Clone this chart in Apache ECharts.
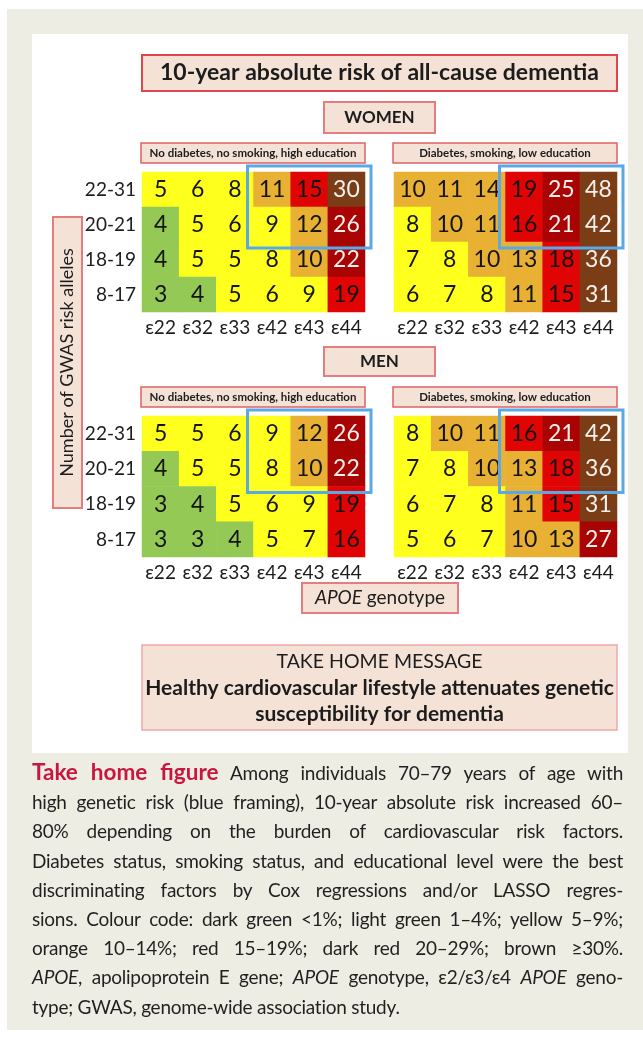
<!DOCTYPE html>
<html>
<head>
<meta charset="utf-8">
<title>10-year absolute risk of all-cause dementia</title>
<script src="https://cdn.jsdelivr.net/npm/echarts@6/dist/echarts.min.js"></script>
<style>
	html, body { margin: 0; padding: 0; background: #fff; }
	#page { position: relative; width: 643px; height: 1037px; overflow: hidden; }
	#beige { position: absolute; left: 7px; top: 9px; width: 636px; height: 1021px; background: #EEEDE3; }
	#panel { position: absolute; left: 32px; top: 34px; width: 596px; height: 719px; background: #fff; }
	#chart { position: absolute; left: 0; top: 0; width: 643px; height: 760px; }
	#caption { position: absolute; left: 32px; top: 757px; width: 591px; font-family: Lato, 'Open Sans', sans-serif; font-size: 19px; letter-spacing: -0.25px; line-height: 29.2px; color: #231F20; }
	#caption div { white-space: nowrap; text-align: justify; text-align-last: justify; }
	#caption div.last { text-align-last: left; }
	#caption .lead { color: #C8163F; font-weight: bold; font-size: 22.5px; letter-spacing: 0; }
</style>
</head>
<body>
<div id="page">
	<div id="beige"></div>
	<div id="panel"></div>
	<div id="chart"></div>
	<div id="caption">
		<div><span class="lead">Take home figure</span> Among individuals 70–79 years of age with</div>
		<div>high genetic risk (blue framing), 10-year absolute risk increased 60–</div>
		<div>80% depending on the burden of cardiovascular risk factors.</div>
		<div>Diabetes status, smoking status, and educational level were the best</div>
		<div>discriminating factors by Cox regressions and/or LASSO regres-</div>
		<div>sions. Colour code: dark green &lt;1%; light green 1–4%; yellow 5–9%;</div>
		<div>orange 10–14%; red 15–19%; dark red 20–29%; brown ≥30%.</div>
		<div><i>APOE</i>, apolipoprotein E gene; <i>APOE</i> genotype, ε2/ε3/ε4 <i>APOE</i> geno-</div>
		<div class="last">type; GWAS, genome-wide association study.</div>
	</div>
</div>
<script>
// APOE genotypes (columns) and GWAS risk allele groups (rows, top to bottom)
const genotypes = ['ε22', 'ε32', 'ε33', 'ε42', 'ε43', 'ε44'];
const alleleGroups = ['22-31', '20-21', '18-19', '8-17'];

// 10-year absolute risk (%), one row per allele group
const womenHealthy = [
	[5, 6, 8, 11, 15, 30],
	[4, 5, 6, 9, 12, 26],
	[4, 5, 5, 8, 10, 22],
	[3, 4, 5, 6, 9, 19]
];
const womenRisk = [
	[10, 11, 14, 19, 25, 48],
	[8, 10, 11, 16, 21, 42],
	[7, 8, 10, 13, 18, 36],
	[6, 7, 8, 11, 15, 31]
];
const menHealthy = [
	[5, 5, 6, 9, 12, 26],
	[4, 5, 5, 8, 10, 22],
	[3, 4, 5, 6, 9, 19],
	[3, 3, 4, 5, 7, 16]
];
const menRisk = [
	[8, 10, 11, 16, 21, 42],
	[7, 8, 10, 13, 18, 36],
	[6, 7, 8, 11, 15, 31],
	[5, 6, 7, 10, 13, 27]
];

// high genetic risk block (blue framing)
const framedGenotypes = ['ε42', 'ε44'];
const framedGroups = ['22-31', '20-21'];

const panels = [womenHealthy, womenRisk, menHealthy, menRisk];

const FONT = 'Lato, "Open Sans", sans-serif';
const FILL = '#F5E2D7';

function toCells(rows) {
	let out = [];
	rows.forEach((row, y) => {
		row.forEach((v, x) => out.push([x, y, v]));
	});
	return out;
}

function box(id, x, y, w, h, stroke, lw) {
	return {
		id: id,
		type: 'rect',
		shape: { x: x, y: y, width: w, height: h },
		style: { fill: FILL, stroke: stroke, lineWidth: lw },
		z: 10
	};
}

function label(id, text, x, y, size, weight, extra) {
	return Object.assign({
		id: id,
		type: 'text',
		x: x,
		y: y,
		z: 11,
		style: {
			text: text,
			fill: '#1c1c1c',
			font: weight + ' ' + size + 'px ' + FONT,
			textAlign: 'center',
			textVerticalAlign: 'middle'
		}
	}, extra || {});
}

const chart = echarts.init(document.getElementById('chart'), null, { renderer: 'canvas' });

const gridPos = [
	{ left: 142, top: 172, height: 140 },
	{ left: 394, top: 172, height: 140 },
	{ left: 142, top: 416, height: 141 },
	{ left: 394, top: 416, height: 141 }
];

const grid = gridPos.map(g => ({ left: g.left, top: g.top, width: 223, height: g.height }));

const xAxis = gridPos.map((g, i) => ({
	type: 'category',
	gridIndex: i,
	data: genotypes,
	position: 'bottom',
	axisLine: { show: false },
	axisTick: { show: false },
	splitLine: { show: false },
	axisLabel: { color: '#1c1c1c', fontSize: 19, fontFamily: FONT, margin: 6, interval: 0 }
}));

const yAxis = gridPos.map((g, i) => ({
	type: 'category',
	gridIndex: i,
	data: alleleGroups,
	inverse: true,
	axisLine: { show: false },
	axisTick: { show: false },
	splitLine: { show: false },
	axisLabel: { show: i % 2 === 0, color: '#1c1c1c', fontSize: 19, fontFamily: FONT, margin: 6 }
}));

const series = panels.map((rows, i) => ({
	type: 'heatmap',
	xAxisIndex: i,
	yAxisIndex: i,
	data: toCells(rows),
	itemStyle: { borderWidth: 0 },
	emphasis: { disabled: true },
	label: {
		show: true,
		formatter: p => (p.value[2] >= 20 ? '{w|' : '{d|') + p.value[2] + '}',
		rich: {
			d: { color: '#141414', fontSize: 23, fontFamily: FONT },
			w: { color: '#f4f0ee', fontSize: 23, fontFamily: FONT }
		}
	}
}));

const graphic = [
	box('titleBox', 142, 55, 475, 36, '#E0474C', 2),
	label('title', '10-year absolute risk of all-cause dementia', 379.5, 73, 23, 'bold'),
	box('womenBox', 324, 102, 111, 31, '#E57C7E', 2),
	label('women', 'WOMEN', 379.5, 117.5, 17, 'bold'),
	box('menBox', 324, 347, 111, 29, '#E57C7E', 2),
	label('men', 'MEN', 379.5, 361.5, 17, 'bold'),
	box('sub0Box', 141, 143, 224, 20, '#E06264', 1.5),
	label('sub0', 'No diabetes, no smoking, high education', 253, 153, 11.5, 'bold'),
	box('sub1Box', 393, 143, 224, 20, '#E06264', 1.5),
	label('sub1', 'Diabetes, smoking, low education', 505, 153, 11.5, 'bold'),
	box('sub2Box', 141, 387, 224, 20, '#E06264', 1.5),
	label('sub2', 'No diabetes, no smoking, high education', 253, 397, 11.5, 'bold'),
	box('sub3Box', 393, 387, 224, 20, '#E06264', 1.5),
	label('sub3', 'Diabetes, smoking, low education', 505, 397, 11.5, 'bold'),
	box('yBox', 53, 217, 29, 291, '#E57C7E', 2),
	label('yName', 'Number of GWAS risk alleles', 67.5, 362.5, 18, 'normal', { rotation: Math.PI / 2 }),
	box('apoeBox', 302, 583, 156, 30, '#E57C7E', 2),
	{
		id: 'apoe',
		type: 'text',
		x: 380,
		y: 598,
		z: 11,
		style: {
			text: '{i|APOE} genotype',
			fill: '#1c1c1c',
			font: 'normal 19px ' + FONT,
			textAlign: 'center',
			textVerticalAlign: 'middle',
			rich: { i: { fontStyle: 'italic', fontSize: 19, fontFamily: FONT, fill: '#1c1c1c' } }
		}
	},
	box('msgBox', 142, 645, 475, 85, '#F0A6A8', 1.5),
	label('msg0', 'TAKE HOME MESSAGE', 379.5, 662, 19.5, 'normal'),
	label('msg1', 'Healthy cardiovascular lifestyle attenuates genetic', 379.5, 688, 21, 'bold'),
	label('msg2', 'susceptibility for dementia', 379.5, 714, 21, 'bold')
];

chart.setOption({
	animation: false,
	backgroundColor: 'transparent',
	grid,
	xAxis,
	yAxis,
	visualMap: {
		show: false,
		type: 'piecewise',
		dimension: 2,
		seriesIndex: [0, 1, 2, 3],
		pieces: [
			{ lt: 1, color: '#2E7D32' },
			{ gte: 1, lt: 5, color: '#94C955' },
			{ gte: 5, lt: 10, color: '#FFFF1E' },
			{ gte: 10, lt: 15, color: '#E9B134' },
			{ gte: 15, lt: 20, color: '#E00404' },
			{ gte: 20, lt: 30, color: '#A90303' },
			{ gte: 30, color: '#7A3D16' }
		]
	},
	graphic,
	series
});

// blue framing around the high genetic risk cells, placed through the axes
const pad = 6;
const frames = panels.map((rows, i) => {
	const finder = { xAxisIndex: i, yAxisIndex: i };
	const a = chart.convertToPixel(finder, [framedGenotypes[0], framedGroups[0]]);
	const b = chart.convertToPixel(finder, [framedGenotypes[1], framedGroups[1]]);
	const cw = (b[0] - a[0]) / (genotypes.indexOf(framedGenotypes[1]) - genotypes.indexOf(framedGenotypes[0]));
	const ch = (b[1] - a[1]) / (alleleGroups.indexOf(framedGroups[1]) - alleleGroups.indexOf(framedGroups[0]));
	return {
		id: 'frame' + i,
		type: 'rect',
		z: 20,
		shape: {
			x: a[0] - cw / 2 - pad,
			y: a[1] - ch / 2 - pad,
			width: b[0] - a[0] + cw + pad * 2,
			height: b[1] - a[1] + ch + pad * 2
		},
		style: { fill: null, stroke: '#5AA8E4', lineWidth: 3 }
	};
});

chart.setOption({ graphic: frames });
</script>
</body>
</html>
